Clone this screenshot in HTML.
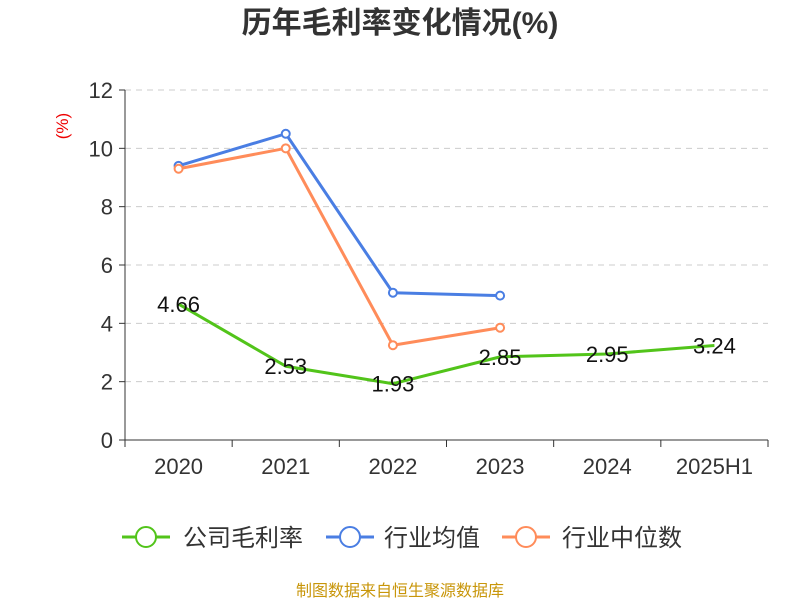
<!DOCTYPE html>
<html><head><meta charset="utf-8"><style>
body{margin:0;background:#fff;font-family:"Liberation Sans","Noto Sans CJK SC",sans-serif}
</style></head><body>
<svg width="800" height="600" xmlns="http://www.w3.org/2000/svg" font-family="Liberation Sans, Noto Sans CJK SC, sans-serif">
<text x="400" y="33" text-anchor="middle" font-size="30" font-weight="bold" fill="#333">历年毛利率变化情况(%)</text>
<text x="68" y="126" text-anchor="middle" font-size="17" fill="#e00" transform="rotate(-90 68 126)">(%)</text>
<g id="grid"></g><g id="axes"></g><g id="series"></g>
<g font-size="24" fill="#333">
<g><line x1="122" y1="537" x2="170" y2="537" stroke="#52c41a" stroke-width="3"/><circle cx="146" cy="537" r="10" fill="#fff" stroke="#52c41a" stroke-width="2"/><text x="183" y="546">公司毛利率</text></g>
<g><line x1="326" y1="537" x2="374" y2="537" stroke="#4a7ee3" stroke-width="3"/><circle cx="350" cy="537" r="10" fill="#fff" stroke="#4a7ee3" stroke-width="2"/><text x="384" y="546">行业均值</text></g>
<g><line x1="502" y1="537" x2="550" y2="537" stroke="#ff8c5a" stroke-width="3"/><circle cx="526" cy="537" r="10" fill="#fff" stroke="#ff8c5a" stroke-width="2"/><text x="562" y="546">行业中位数</text></g>
</g>
<text x="400" y="596" text-anchor="middle" font-size="16" fill="#c8960a">制图数据来自恒生聚源数据库</text>
</svg>
<script>
const categories=["2020","2021","2022","2023","2024","2025H1"];
const companyValues=[4.66,2.53,1.93,2.85,2.95,3.24];
const industryAvg=[9.4,10.5,5.05,4.95];
const industryMedian=[9.3,10.0,3.25,3.85];
const yTicks=[0,2,4,6,8,10,12];
const NS="http://www.w3.org/2000/svg";
const x0=125,x1=768,yTop=90,yBot=440,yMax=12;
const bw=(x1-x0)/categories.length;
const X=i=>x0+bw*(i+0.5);
const Y=v=>yBot-(v/yMax)*(yBot-yTop);
function mk(tag,attrs,parent){const e=document.createElementNS(NS,tag);for(const k in attrs)e.setAttribute(k,attrs[k]);parent.appendChild(e);return e;}
const grid=document.getElementById('grid'),axes=document.getElementById('axes'),series=document.getElementById('series');
yTicks.forEach(t=>{
  if(t>0){const g=mk('line',{x1:x0,x2:x1,y1:Y(t),y2:Y(t),stroke:'#ccc','stroke-dasharray':'6,5'},grid);
  
  }
  mk('line',{x1:x0-6,x2:x0,y1:Y(t),y2:Y(t),stroke:'#333'},axes);
  const tx=mk('text',{x:x0-12,y:Y(t)+8,'text-anchor':'end','font-size':22,fill:'#333'},axes);
  tx.textContent=t;
  
  
});
mk('line',{x1:x0,x2:x0,y1:yTop,y2:yBot,stroke:'#333'},axes);
mk('line',{x1:x0,x2:x1,y1:yBot,y2:yBot,stroke:'#333'},axes);
for(let i=0;i<=categories.length;i++)mk('line',{x1:x0+bw*i,x2:x0+bw*i,y1:yBot,y2:yBot+7,stroke:'#333'},axes);
categories.forEach((c,i)=>{
  const t=mk('text',{x:X(i),y:474,'text-anchor':'middle','font-size':22,fill:'#333'},axes);
  t.textContent=c;
  
  
});
function line(vals,color,name,markers){
  const p=mk('polyline',{points:vals.map((v,i)=>X(i)+','+Y(v)).join(' '),fill:'none',stroke:color,'stroke-width':3,'stroke-linejoin':'round'},series);
  
  
  if(markers)vals.forEach((v,i)=>{
    const c=mk('circle',{cx:X(i),cy:Y(v),r:4,fill:'#fff',stroke:color,'stroke-width':2},series);
    
    
  });
}
line(industryAvg,'#4a7ee3','industry-average',true);
line(industryMedian,'#ff8c5a','industry-median',true);
line(companyValues,'#52c41a','company',false);
companyValues.forEach((v,i)=>{
  const t=mk('text',{x:X(i),y:Y(v)+8,'text-anchor':'middle','font-size':22,fill:'#111'},series);
  t.textContent=v.toFixed(2);
  
  
});
</script>
</body></html>
